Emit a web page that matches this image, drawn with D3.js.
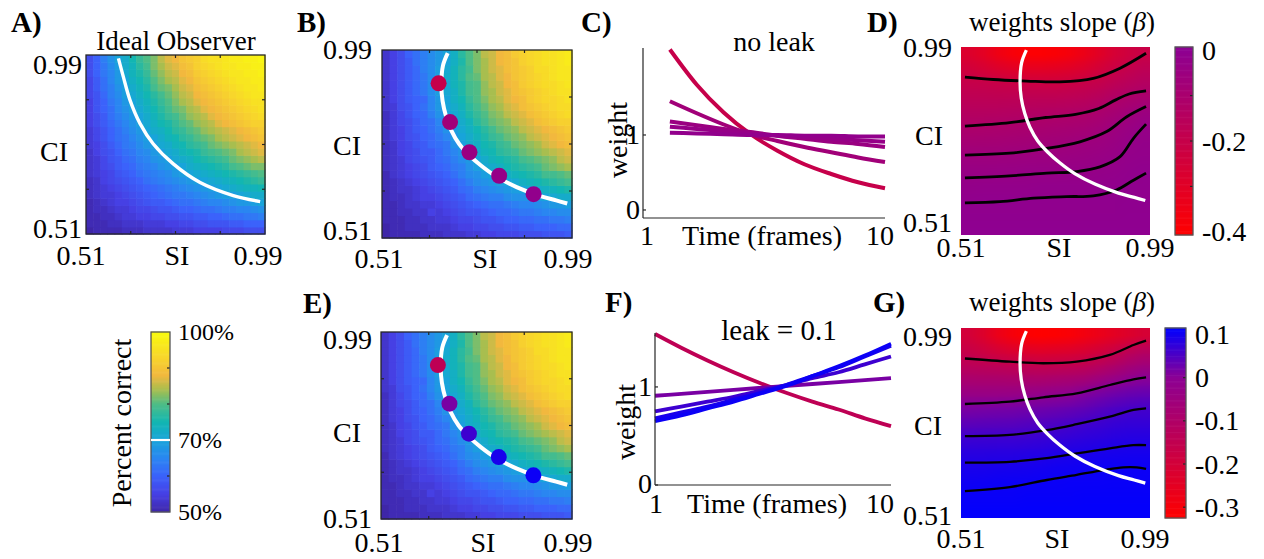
<!DOCTYPE html>
<html>
<head>
<meta charset="utf-8">
<title>Accuracy and weights slope across stimulus and change information</title>
<script src="https://cdn.jsdelivr.net/npm/d3@7/dist/d3.min.js"></script>
<style>
  html, body { margin: 0; padding: 0; background: #fff; }
  svg { display: block; font-family: "Liberation Serif", "Times New Roman", serif; }
</style>
</head>
<body>
<svg id="fig" width="1264" height="559" viewBox="0 0 1264 559"></svg>
<script>
// ---------------- grid coordinates ----------------
const siGrid = [0.51,0.53,0.55,0.57,0.59,0.61,0.63,0.65,0.67,0.69,0.71,0.73,0.75,0.77,0.79,0.81,0.83,0.85,0.87,0.89,0.91,0.93,0.95,0.97,0.99];
const ciGrid = [0.51,0.53,0.55,0.57,0.59,0.61,0.63,0.65,0.67,0.69,0.71,0.73,0.75,0.77,0.79,0.81,0.83,0.85,0.87,0.89,0.91,0.93,0.95,0.97,0.99];

// ---------------- percent correct (rows: CI 0.51 -> 0.99, columns: SI 0.51 -> 0.99) ----------------
const accuracyIdeal = [
  [50,51,51,51,51,52,52,52,53,53,53,53,54,54,54,55,55,55,55,56,56,56,57,57,57],
  [51,51,51,52,52,53,53,53,54,54,54,55,55,56,56,57,57,58,58,58,59,59,60,60,60],
  [51,51,52,52,53,54,54,55,55,56,56,57,57,58,58,59,59,60,60,61,62,62,63,63,64],
  [51,52,52,53,54,54,55,56,56,57,58,58,59,60,60,61,62,62,63,64,64,65,65,66,67],
  [51,52,53,54,55,55,56,57,58,59,59,60,61,62,62,63,64,65,65,66,67,68,68,69,70],
  [52,53,54,54,55,56,57,58,59,60,61,62,63,63,64,65,66,67,68,69,69,70,71,72,72],
  [52,53,54,55,56,57,58,59,60,61,62,63,64,65,66,67,68,69,70,71,72,73,74,74,75],
  [52,53,55,56,57,58,59,60,62,63,64,65,66,67,68,69,70,71,72,73,74,75,76,77,78],
  [53,54,55,56,58,59,60,62,63,64,65,66,68,69,70,71,72,73,74,75,76,77,78,79,80],
  [53,54,56,57,59,60,61,63,64,65,67,68,69,70,72,73,74,75,76,77,79,80,81,82,82],
  [53,54,56,58,59,61,62,64,65,67,68,69,71,72,73,75,76,77,78,79,81,82,83,84,85],
  [53,55,57,58,60,62,63,65,66,68,69,71,72,74,75,76,78,79,80,81,82,84,85,86,87],
  [54,55,57,59,61,63,64,66,68,69,71,72,74,75,77,78,79,81,82,83,84,85,86,87,88],
  [54,56,58,60,62,63,65,67,69,70,72,74,75,77,78,80,81,82,84,85,86,87,88,89,90],
  [54,56,58,60,62,64,66,68,70,72,73,75,77,78,80,81,83,84,85,86,87,88,89,90,91],
  [55,57,59,61,63,65,67,69,71,73,75,76,78,80,81,83,84,85,87,88,89,90,91,92,92],
  [55,57,59,62,64,66,68,70,72,74,76,78,79,81,83,84,85,87,88,89,90,91,92,93,94],
  [55,58,60,62,65,67,69,71,73,75,77,79,81,82,84,85,87,88,89,90,91,92,93,94,95],
  [55,58,60,63,65,68,70,72,74,76,78,80,82,84,85,87,88,89,90,91,92,93,94,95,95],
  [56,58,61,64,66,69,71,73,75,77,79,81,83,85,86,88,89,90,91,92,93,94,95,96,96],
  [56,59,62,64,67,69,72,74,76,79,81,82,84,86,87,89,90,91,92,93,94,95,96,96,97],
  [56,59,62,65,68,70,73,75,77,80,82,84,85,87,88,90,91,92,93,94,95,96,96,97,97],
  [57,60,63,65,68,71,74,76,78,81,83,85,86,88,89,91,92,93,94,95,96,96,97,97,98],
  [57,60,63,66,69,72,74,77,79,82,84,86,87,89,90,92,93,94,95,96,96,97,97,98,98],
  [57,60,64,67,70,72,75,78,80,82,85,87,88,90,91,92,94,95,95,96,97,97,98,98,99]
];

const accuracyModel = [
  [50,51,51,51,51,52,52,52,53,53,53,54,54,55,55,56,56,56,57,57,57,58,58,58,59],
  [50,51,51,52,52,52,53,53,53,54,55,55,56,56,57,57,58,58,59,59,60,60,60,61,61],
  [51,51,51,52,52,53,53,54,54,55,56,56,57,58,58,59,60,60,61,61,62,62,63,63,64],
  [51,51,52,52,53,53,55,54,55,56,57,58,58,59,60,61,61,62,63,63,64,65,65,66,66],
  [51,51,52,53,53,54,54,55,56,57,58,59,60,61,62,62,63,64,65,65,66,67,68,68,69],
  [51,52,52,53,54,55,55,56,57,58,59,61,62,63,64,64,66,67,67,68,69,70,71,72,72],
  [51,52,53,53,54,55,56,57,58,59,61,62,64,65,66,67,68,69,70,71,72,73,74,75,76],
  [51,52,53,54,55,56,57,58,59,60,62,64,66,67,68,69,70,71,73,74,75,76,77,78,79],
  [51,53,54,55,56,57,58,59,60,62,64,66,67,69,70,71,73,74,75,76,77,79,79,80,81],
  [52,53,54,55,56,57,59,60,61,63,64,67,69,71,72,73,75,76,77,78,79,81,82,83,84],
  [52,53,54,56,57,58,59,61,62,64,66,68,70,72,74,75,76,77,79,80,81,82,83,85,86],
  [52,53,55,56,57,59,59,61,63,65,67,70,72,74,75,77,78,79,81,82,83,84,85,86,87],
  [52,53,55,56,58,59,61,62,63,67,69,72,73,75,76,78,79,81,82,83,84,86,87,88,89],
  [52,54,55,57,58,60,61,63,65,68,70,72,74,76,78,79,81,82,83,85,86,87,88,89,90],
  [52,54,55,57,59,60,62,64,67,69,71,73,75,77,79,81,82,83,85,86,87,88,89,90,91],
  [52,54,56,57,59,61,62,65,68,70,72,74,77,79,81,82,83,85,86,87,89,90,91,92,92],
  [52,54,56,58,60,61,64,67,69,71,73,76,78,80,82,83,85,86,87,89,90,91,92,93,94],
  [53,54,57,58,60,62,65,68,70,72,74,77,79,81,83,84,86,87,89,90,91,92,93,94,94],
  [53,55,57,59,60,61,65,68,70,73,75,78,80,82,84,85,87,88,89,91,92,93,93,94,95],
  [53,55,57,59,61,63,66,69,71,73,76,79,80,83,84,86,87,89,90,91,92,93,94,95,95],
  [53,55,57,59,61,63,66,69,71,74,76,79,80,83,85,86,88,89,91,92,93,94,94,95,96],
  [53,55,57,59,61,63,66,69,72,74,77,80,81,84,85,87,88,90,91,92,93,94,95,96,96],
  [53,55,57,59,61,64,66,69,71,74,77,79,82,84,86,87,89,90,91,92,94,94,95,96,96],
  [53,55,57,59,62,64,66,68,70,73,76,80,82,84,86,88,89,90,92,93,94,95,95,96,97],
  [53,55,57,60,62,64,66,68,70,73,77,80,82,85,86,88,89,91,92,93,94,95,95,96,97]
];

// ---------------- weights slope maps (rows: CI 0.51 -> 0.99 step 0.04, columns: SI 0.51 -> 0.99 step 0.04) ----------------
const slopeMapNoLeak = [
  [-0.002,-0.002,-0.002,-0.002,-0.002,-0.002,-0.002,-0.002,-0.002,-0.002,-0.002,-0.002,-0.002],
  [-0.007,-0.007,-0.007,-0.007,-0.006,-0.006,-0.006,-0.006,-0.006,-0.006,-0.006,-0.005,-0.004],
  [-0.012,-0.011,-0.011,-0.011,-0.011,-0.010,-0.010,-0.010,-0.010,-0.010,-0.009,-0.008,-0.007],
  [-0.023,-0.022,-0.022,-0.021,-0.020,-0.019,-0.019,-0.018,-0.017,-0.016,-0.013,-0.010,-0.009],
  [-0.037,-0.037,-0.035,-0.035,-0.033,-0.031,-0.031,-0.030,-0.028,-0.026,-0.022,-0.015,-0.011],
  [-0.058,-0.058,-0.056,-0.055,-0.053,-0.051,-0.049,-0.046,-0.043,-0.038,-0.031,-0.022,-0.017],
  [-0.085,-0.084,-0.082,-0.080,-0.076,-0.073,-0.070,-0.065,-0.058,-0.053,-0.044,-0.028,-0.023],
  [-0.112,-0.110,-0.108,-0.105,-0.101,-0.098,-0.095,-0.091,-0.085,-0.075,-0.058,-0.044,-0.029],
  [-0.141,-0.140,-0.139,-0.137,-0.133,-0.130,-0.125,-0.121,-0.115,-0.103,-0.087,-0.068,-0.051],
  [-0.169,-0.170,-0.171,-0.170,-0.169,-0.169,-0.168,-0.164,-0.159,-0.145,-0.122,-0.108,-0.097],
  [-0.197,-0.200,-0.206,-0.211,-0.216,-0.218,-0.220,-0.213,-0.202,-0.192,-0.169,-0.151,-0.137],
  [-0.238,-0.255,-0.277,-0.295,-0.308,-0.310,-0.304,-0.291,-0.272,-0.245,-0.215,-0.193,-0.173],
  [-0.280,-0.310,-0.350,-0.380,-0.400,-0.400,-0.390,-0.370,-0.340,-0.300,-0.260,-0.230,-0.210]
];

const slopeMapLeak = [
  [0.112,0.112,0.112,0.112,0.112,0.112,0.112,0.112,0.112,0.112,0.112,0.112,0.112],
  [0.108,0.108,0.108,0.108,0.109,0.109,0.109,0.109,0.110,0.110,0.110,0.110,0.110],
  [0.102,0.103,0.104,0.105,0.105,0.106,0.106,0.107,0.107,0.107,0.108,0.108,0.107],
  [0.094,0.094,0.095,0.095,0.096,0.098,0.100,0.101,0.103,0.105,0.105,0.105,0.105],
  [0.081,0.081,0.082,0.082,0.084,0.085,0.088,0.090,0.092,0.094,0.095,0.096,0.096],
  [0.063,0.064,0.064,0.064,0.066,0.068,0.071,0.074,0.077,0.080,0.083,0.085,0.085],
  [0.039,0.040,0.041,0.042,0.045,0.048,0.052,0.056,0.062,0.065,0.070,0.072,0.072],
  [0.014,0.016,0.017,0.018,0.021,0.024,0.027,0.031,0.036,0.044,0.052,0.057,0.059],
  [-0.032,-0.032,-0.030,-0.029,-0.025,-0.018,-0.010,-0.003,0.010,0.017,0.025,0.030,0.033],
  [-0.084,-0.085,-0.086,-0.088,-0.088,-0.087,-0.082,-0.077,-0.067,-0.047,-0.027,-0.007,0.004],
  [-0.135,-0.139,-0.143,-0.149,-0.154,-0.159,-0.156,-0.152,-0.144,-0.126,-0.103,-0.076,-0.060],
  [-0.168,-0.184,-0.207,-0.225,-0.237,-0.242,-0.238,-0.231,-0.217,-0.199,-0.178,-0.146,-0.124],
  [-0.200,-0.230,-0.270,-0.300,-0.320,-0.325,-0.320,-0.310,-0.290,-0.270,-0.250,-0.230,-0.210]
];

// ---------------- 70% accuracy thresholds, [SI, CI] ----------------
const threshold70Ideal = [[0.597,0.981],[0.610,0.932],[0.628,0.869],[0.655,0.806],[0.690,0.752],[0.744,0.698],[0.816,0.648],[0.905,0.613],[0.977,0.597]];
const threshold70Model = [[0.676,0.982],[0.664,0.950],[0.660,0.900],[0.663,0.860],[0.672,0.820],[0.685,0.785],[0.705,0.750],[0.730,0.722],[0.760,0.695],[0.800,0.666],[0.850,0.640],[0.910,0.617],[0.950,0.606],[0.978,0.598]];

// ---------------- probe observers on the threshold ----------------
const probeSI = [0.653, 0.682, 0.731, 0.806, 0.893];
const probeCI = [0.905, 0.806, 0.729, 0.669, 0.622];
const slopeNoLeak = [-0.20, -0.07, -0.045, -0.03, -0.015];
const slopeLeak = [-0.14, 0.016, 0.065, 0.095, 0.105];

// ---------------- temporal weights of the probes ----------------
const framesNoLeak = [2, 3, 4, 5, 6, 7, 8, 9, 10];
const weightsNoLeak = [
  [2.14, 1.67, 1.30, 1.01, 0.79, 0.61, 0.48, 0.37, 0.29],
  [1.45, 1.29, 1.14, 1.01, 0.92, 0.84, 0.77, 0.70, 0.64],
  [1.18, 1.13, 1.08, 1.04, 0.99, 0.95, 0.91, 0.88, 0.84],
  [1.11, 1.08, 1.05, 1.02, 0.99, 0.97, 0.95, 0.93, 0.91],
  [1.03, 1.02, 1.01, 1.00, 1.00, 0.99, 0.99, 0.98, 0.98]
];
const framesLeak = [1, 2, 3, 4, 5, 6, 7, 8, 9, 10];
const weightsLeak = [
  [1.54, 1.40, 1.27, 1.15, 1.04, 0.94, 0.85, 0.77, 0.68, 0.60],
  [0.91, 0.93, 0.95, 0.97, 0.99, 1.01, 1.03, 1.05, 1.07, 1.09],
  [0.75, 0.80, 0.85, 0.90, 0.96, 1.02, 1.09, 1.15, 1.23, 1.31],
  [0.68, 0.74, 0.80, 0.87, 0.94, 1.02, 1.11, 1.20, 1.31, 1.42],
  [0.65, 0.71, 0.78, 0.85, 0.93, 1.01, 1.11, 1.21, 1.32, 1.44]
];

// ---------------- iso-slope lines, [SI, CI] ----------------
const isoNoLeak = [
  [[0.520,0.913],[0.592,0.907],[0.677,0.903],[0.761,0.901],[0.846,0.910],[0.914,0.936],[0.980,0.974]],
  [[0.520,0.788],[0.634,0.797],[0.725,0.810],[0.801,0.818],[0.860,0.833],[0.903,0.855],[0.937,0.870],[0.980,0.878]],
  [[0.520,0.714],[0.634,0.719],[0.728,0.731],[0.812,0.748],[0.880,0.774],[0.931,0.812],[0.980,0.838]],
  [[0.520,0.656],[0.634,0.661],[0.728,0.668],[0.804,0.672],[0.863,0.684],[0.914,0.710],[0.948,0.757],[0.980,0.793]],
  [[0.520,0.592],[0.609,0.595],[0.694,0.604],[0.778,0.608],[0.846,0.610],[0.905,0.625],[0.948,0.650],[0.980,0.668]]
];
const isoLeak = [
  [[0.520,0.913],[0.634,0.905],[0.719,0.901],[0.804,0.905],[0.888,0.922],[0.948,0.947],[0.980,0.958]],
  [[0.520,0.798],[0.634,0.804],[0.719,0.815],[0.804,0.825],[0.888,0.846],[0.948,0.860],[0.980,0.865]],
  [[0.520,0.717],[0.634,0.720],[0.728,0.732],[0.804,0.747],[0.888,0.766],[0.948,0.783],[0.980,0.787]],
  [[0.520,0.650],[0.634,0.652],[0.728,0.661],[0.804,0.673],[0.888,0.686],[0.948,0.694],[0.980,0.694]],
  [[0.520,0.578],[0.634,0.588],[0.728,0.606],[0.804,0.619],[0.872,0.631],[0.922,0.638],[0.956,0.638],[0.980,0.634]]
];

// ---------------- tick labels ----------------
const accuracyTicks = [50, 70, 100];
const slopeTicksNoLeak = [0, -0.2, -0.4];
const slopeTicksLeak = [0.1, 0, -0.1, -0.2, -0.3];

// ---------------- colour maps ----------------
const parulaAt = [50, 55, 60, 65, 70, 75, 80, 84, 88, 93, 100];
const parula = ["#3e26a8","#4640e4","#3b62fb","#2a86f1","#18a4da","#12b6b2","#4fbd86","#a8be4f","#f2b83e","#f8d62b","#f9fb0e"];
const accColor = d3.scaleLinear().domain(parulaAt).range(parula).clamp(true);
const slopeColorNoLeak = d3.scaleLinear().domain([-0.407, 0.007]).range(["#ff0000", "#8c0094"]).clamp(true);
const slopeColorLeak = d3.scaleLinear().domain([-0.325, 0, 0.115]).range(["#ff0000", "#8c0094", "#0000ff"]).clamp(true);

const svg = d3.select("#fig");
const AXIS = "#262626";
const FS = 28;

function label(x, y, str, o = {}) {
  const t = svg.append("text")
    .attr("x", x).attr("y", y)
    .attr("font-size", o.size || FS)
    .attr("text-anchor", o.anchor || "middle")
    .attr("dominant-baseline", o.baseline || "central")
    .attr("fill", "#000");
  if (o.weight) t.attr("font-weight", o.weight);
  if (o.rotate) t.attr("transform", `rotate(${o.rotate},${x},${y})`);
  t.text(str);
  return t;
}

function panelLetter(x, y, str) {
  label(x, y, str, { anchor: "start", baseline: "alphabetic", weight: "bold", size: 29 });
}

function frameLabels(L) {
  label(L.yTop[0], L.yTop[1], "0.99", { anchor: "end" });
  label(L.yBot[0], L.yBot[1], "0.51", { anchor: "end" });
  label(L.ci[0], L.ci[1], "CI");
  label(L.xLeft[0], L.xLeft[1], "0.51");
  label(L.si[0], L.si[1], "SI");
  label(L.xRight[0], L.xRight[1], "0.99");
}

function boxTicks(g, xs, ys, box) {
  const q = [0.63, 0.75, 0.87], len = 3;
  q.forEach(v => {
    const x = xs(v), y = ys(v);
    g.append("line").attr("x1", x).attr("x2", x).attr("y1", box.y).attr("y2", box.y + len);
    g.append("line").attr("x1", x).attr("x2", x).attr("y1", box.y + box.h).attr("y2", box.y + box.h - len);
    g.append("line").attr("y1", y).attr("y2", y).attr("x1", box.x).attr("x2", box.x + len);
    g.append("line").attr("y1", y).attr("y2", y).attr("x1", box.x + box.w).attr("x2", box.x + box.w - len);
  });
  g.selectAll("line").attr("stroke", AXIS).attr("stroke-width", 1.2);
}

// percent-correct map with its 70% threshold
function accuracyPanel(box, grid, threshold, curveWidth, probes) {
  const g = svg.append("g");
  const xb = d3.scaleBand().domain(siGrid).range([box.x, box.x + box.w]);
  const yb = d3.scaleBand().domain(ciGrid).range([box.y + box.h, box.y]);
  const cells = [];
  grid.forEach((row, j) => row.forEach((v, i) => cells.push({ si: siGrid[i], ci: ciGrid[j], v })));
  g.selectAll("rect.cell").data(cells).join("rect")
    .attr("class", "cell")
    .attr("x", d => xb(d.si)).attr("y", d => yb(d.ci))
    .attr("width", xb.bandwidth() + 0.6).attr("height", yb.bandwidth() + 0.6)
    .attr("fill", d => accColor(d.v));

  const xs = d3.scaleLinear().domain([0.51, 0.99]).range([box.x, box.x + box.w]);
  const ys = d3.scaleLinear().domain([0.51, 0.99]).range([box.y + box.h, box.y]);
  const path = d3.line().x(d => xs(d[0])).y(d => ys(d[1])).curve(d3.curveCatmullRom.alpha(0.5));
  g.append("path").attr("d", path(threshold))
    .attr("fill", "none").attr("stroke", "#fff").attr("stroke-width", curveWidth);

  if (probes) {
    g.selectAll("circle.probe").data(probes.si).join("circle")
      .attr("class", "probe")
      .attr("cx", d => xs(d)).attr("cy", (d, k) => ys(probes.ci[k]))
      .attr("r", 8)
      .attr("fill", (d, k) => probes.color(probes.slope[k]));
  }
  const tg = g.append("g");
  boxTicks(tg, xs, ys, box);
  g.append("rect").attr("x", box.x).attr("y", box.y).attr("width", box.w).attr("height", box.h)
    .attr("fill", "none").attr("stroke", AXIS).attr("stroke-width", 1.3);
}

// smooth slope field rendered through a small canvas
function fieldImage(grid, color, w, h) {
  const rows = grid.length, cols = grid[0].length;
  const small = document.createElement("canvas");
  small.width = cols; small.height = rows;
  const sctx = small.getContext("2d");
  const img = sctx.createImageData(cols, rows);
  for (let r = 0; r < rows; r++) {
    for (let c = 0; c < cols; c++) {
      const col = d3.rgb(color(grid[rows - 1 - r][c]));
      const k = 4 * (r * cols + c);
      img.data[k] = col.r; img.data[k + 1] = col.g; img.data[k + 2] = col.b; img.data[k + 3] = 255;
    }
  }
  sctx.putImageData(img, 0, 0);
  const big = document.createElement("canvas");
  big.width = w; big.height = h;
  const bctx = big.getContext("2d");
  bctx.imageSmoothingEnabled = true;
  bctx.drawImage(small, 0, 0, w, h);
  return big.toDataURL("image/png");
}

function slopePanel(box, grid, color, iso, isoWidth) {
  const g = svg.append("g");
  g.append("image")
    .attr("href", fieldImage(grid, color, box.w, box.h))
    .attr("x", box.x).attr("y", box.y).attr("width", box.w).attr("height", box.h)
    .attr("preserveAspectRatio", "none");
  const xs = d3.scaleLinear().domain([0.51, 0.99]).range([box.x, box.x + box.w]);
  const ys = d3.scaleLinear().domain([0.51, 0.99]).range([box.y + box.h, box.y]);
  const path = d3.line().x(d => xs(d[0])).y(d => ys(d[1])).curve(d3.curveCatmullRom.alpha(0.5));
  iso.forEach(line => g.append("path").attr("d", path(line))
    .attr("fill", "none").attr("stroke", "#000").attr("stroke-width", isoWidth));
  g.append("path").attr("d", path(threshold70Model))
    .attr("fill", "none").attr("stroke", "#fff").attr("stroke-width", 3.3);
}

function colorbar(box, lo, hi, color, ticks, labelX, labels, fontSize, fmt) {
  const g = svg.append("g");
  const y = d3.scaleLinear().domain([lo, hi]).range([box.y + box.h, box.y]);
  const n = 160;
  const steps = d3.range(n).map(k => lo + (hi - lo) * (k + 0.5) / n);
  const sh = box.h / n;
  g.selectAll("rect.slice").data(steps).join("rect")
    .attr("class", "slice")
    .attr("x", box.x).attr("width", box.w)
    .attr("y", d => y(d) - sh / 2 - 0.3).attr("height", sh + 0.6)
    .attr("fill", d => color(d));
  ticks.forEach(v => g.append("line")
    .attr("x1", box.x + box.w).attr("x2", box.x + box.w - 3)
    .attr("y1", y(v)).attr("y2", y(v))
    .attr("stroke", AXIS).attr("stroke-width", 1.2));
  g.append("rect").attr("x", box.x).attr("y", box.y).attr("width", box.w).attr("height", box.h)
    .attr("fill", "none").attr("stroke", "#555").attr("stroke-width", 1.3);
  labels.forEach(v => label(labelX, y(v), fmt(v), { anchor: "start", size: fontSize }));
  return { g, y };
}

function weightPanel(o) {
  const g = svg.append("g");
  const x = d3.scaleLinear().domain([1, 10]).range(o.xRange);
  const y = d3.scaleLinear().domain(o.yDomain).range(o.yRange);
  const line = d3.line().x((d, k) => x(o.frames[k])).y(d => y(d)).curve(d3.curveMonotoneX);
  o.series.forEach((s, k) => g.append("path").attr("d", line(s))
    .attr("fill", "none").attr("stroke", o.color(o.slopes[k]))
    .attr("stroke-width", o.width).attr("stroke-linecap", "butt"));
  const [x0, x1] = o.xRange, [yb, yt] = o.yRange;
  g.append("line").attr("x1", x0).attr("x2", x0).attr("y1", yb).attr("y2", yt).attr("stroke", AXIS).attr("stroke-width", 1.2);
  g.append("line").attr("x1", x0).attr("x2", x1).attr("y1", yb).attr("y2", yb).attr("stroke", AXIS).attr("stroke-width", 1.2);
  [0, 1].forEach(v => g.append("line").attr("x1", x0).attr("x2", x0 + 3).attr("y1", y(v)).attr("y2", y(v))
    .attr("stroke", AXIS).attr("stroke-width", 1.2));
  [0, 1].forEach(v => label(x0 - 3, y(v) + o.yLabelShift[v], String(v), { anchor: "end" }));
  label(x(1) + o.xLabelShift[0], o.xLabelY, "1");
  label(x(10) + o.xLabelShift[1], o.xLabelY, "10");
  label(o.xTitle[0], o.xLabelY, "Time (frames)");
  label(o.yTitle[0], o.yTitle[1], "weight", { rotate: -90 });
  label(o.title[0], o.title[1], o.titleText, { baseline: "alphabetic", size: o.titleSize });
}

// ---------------- A ----------------
const boxA = { x: 86, y: 55, w: 179, h: 179 };
accuracyPanel(boxA, accuracyIdeal, threshold70Ideal, 3.4, null);
panelLetter(11, 32, "A)");
label(176, 50, "Ideal Observer", { baseline: "alphabetic", size: 27 });
frameLabels({ yTop: [82, 64], yBot: [82, 228], ci: [54, 151], xLeft: [81, 255], si: [177, 255], xRight: [258, 255] });

// percent-correct colour scale
const cbA = colorbar({ x: 151, y: 332, w: 19, h: 180 }, 50, 100, accColor, [60, 80, 90], 178, accuracyTicks, 24, v => v + "%");
cbA.g.append("line").attr("x1", 151).attr("x2", 170).attr("y1", cbA.y(70)).attr("y2", cbA.y(70))
  .attr("stroke", "#fff").attr("stroke-width", 2.2);
label(121, 423, "Percent correct", { rotate: -90, size: 28 });

// ---------------- B ----------------
const boxB = { x: 382, y: 50, w: 190, h: 188 };
accuracyPanel(boxB, accuracyModel, threshold70Model, 4,
  { si: probeSI, ci: probeCI, slope: slopeNoLeak, color: slopeColorNoLeak });
panelLetter(297, 32, "B)");
frameLabels({ yTop: [372, 49], yBot: [372, 230], ci: [347, 145], xLeft: [379, 258], si: [485, 258], xRight: [568, 258] });

// ---------------- E ----------------
const boxE = { x: 381, y: 332, w: 191, h: 187 };
accuracyPanel(boxE, accuracyModel, threshold70Model, 4,
  { si: probeSI, ci: probeCI, slope: slopeLeak, color: slopeColorLeak });
panelLetter(303, 313, "E)");
frameLabels({ yTop: [372, 339], yBot: [372, 518], ci: [347, 432], xLeft: [379, 542], si: [483, 542], xRight: [568, 542] });

// ---------------- C ----------------
weightPanel({
  frames: framesNoLeak, series: weightsNoLeak, slopes: slopeNoLeak, color: slopeColorNoLeak, width: 4,
  xRange: [643, 885], yDomain: [-0.107, 2.16], yRange: [218, 48],
  yLabelShift: { 0: 0, 1: 0 }, xLabelShift: [4, -5], xLabelY: 235,
  xTitle: [762], yTitle: [617, 140], title: [774, 51], titleText: "no leak", titleSize: 28
});
panelLetter(581, 32, "C)");

// ---------------- F ----------------
weightPanel({
  frames: framesLeak, series: weightsLeak, slopes: slopeLeak, color: slopeColorLeak, width: 3.8,
  xRange: [655, 891], yDomain: [0, 1.55], yRange: [485, 333],
  yLabelShift: { 0: -2, 1: 0 }, xLabelShift: [1, -11], xLabelY: 503,
  xTitle: [767], yTitle: [625, 422], title: [779, 340], titleText: "leak = 0.1", titleSize: 29
});
panelLetter(605, 312, "F)");

// ---------------- D ----------------
const boxD = { x: 961, y: 47, w: 189, h: 188 };
slopePanel(boxD, slopeMapNoLeak, slopeColorNoLeak, isoNoLeak, 2.8);
panelLetter(867, 32, "D)");
const tD = label(1062, 31, "weights slope (", { baseline: "alphabetic", size: 27 });
tD.append("tspan").attr("font-style", "italic").text("β");
tD.append("tspan").text(")");
frameLabels({ yTop: [952, 47], yBot: [952, 222], ci: [929, 135], xLeft: [961, 247], si: [1059, 247], xRight: [1150, 247] });
colorbar({ x: 1175, y: 47, w: 18, h: 188 }, -0.407, 0.007, slopeColorNoLeak, [-0.1, -0.2, -0.3], 1202, slopeTicksNoLeak, 28, v => String(v));

// ---------------- G ----------------
const boxG = { x: 961, y: 328, w: 189, h: 190 };
slopePanel(boxG, slopeMapLeak, slopeColorLeak, isoLeak, 2.3);
panelLetter(873, 312, "G)");
const tG = label(1062, 311, "weights slope (", { baseline: "alphabetic", size: 27 });
tG.append("tspan").attr("font-style", "italic").text("β");
tG.append("tspan").text(")");
frameLabels({ yTop: [952, 336], yBot: [952, 515], ci: [928, 425], xLeft: [961, 538], si: [1057, 538], xRight: [1145, 538] });
colorbar({ x: 1165, y: 328, w: 21, h: 190 }, -0.325, 0.115, slopeColorLeak, [0, -0.1, -0.2, -0.3], 1195, slopeTicksLeak, 28, v => String(v));
</script>
</body>
</html>
